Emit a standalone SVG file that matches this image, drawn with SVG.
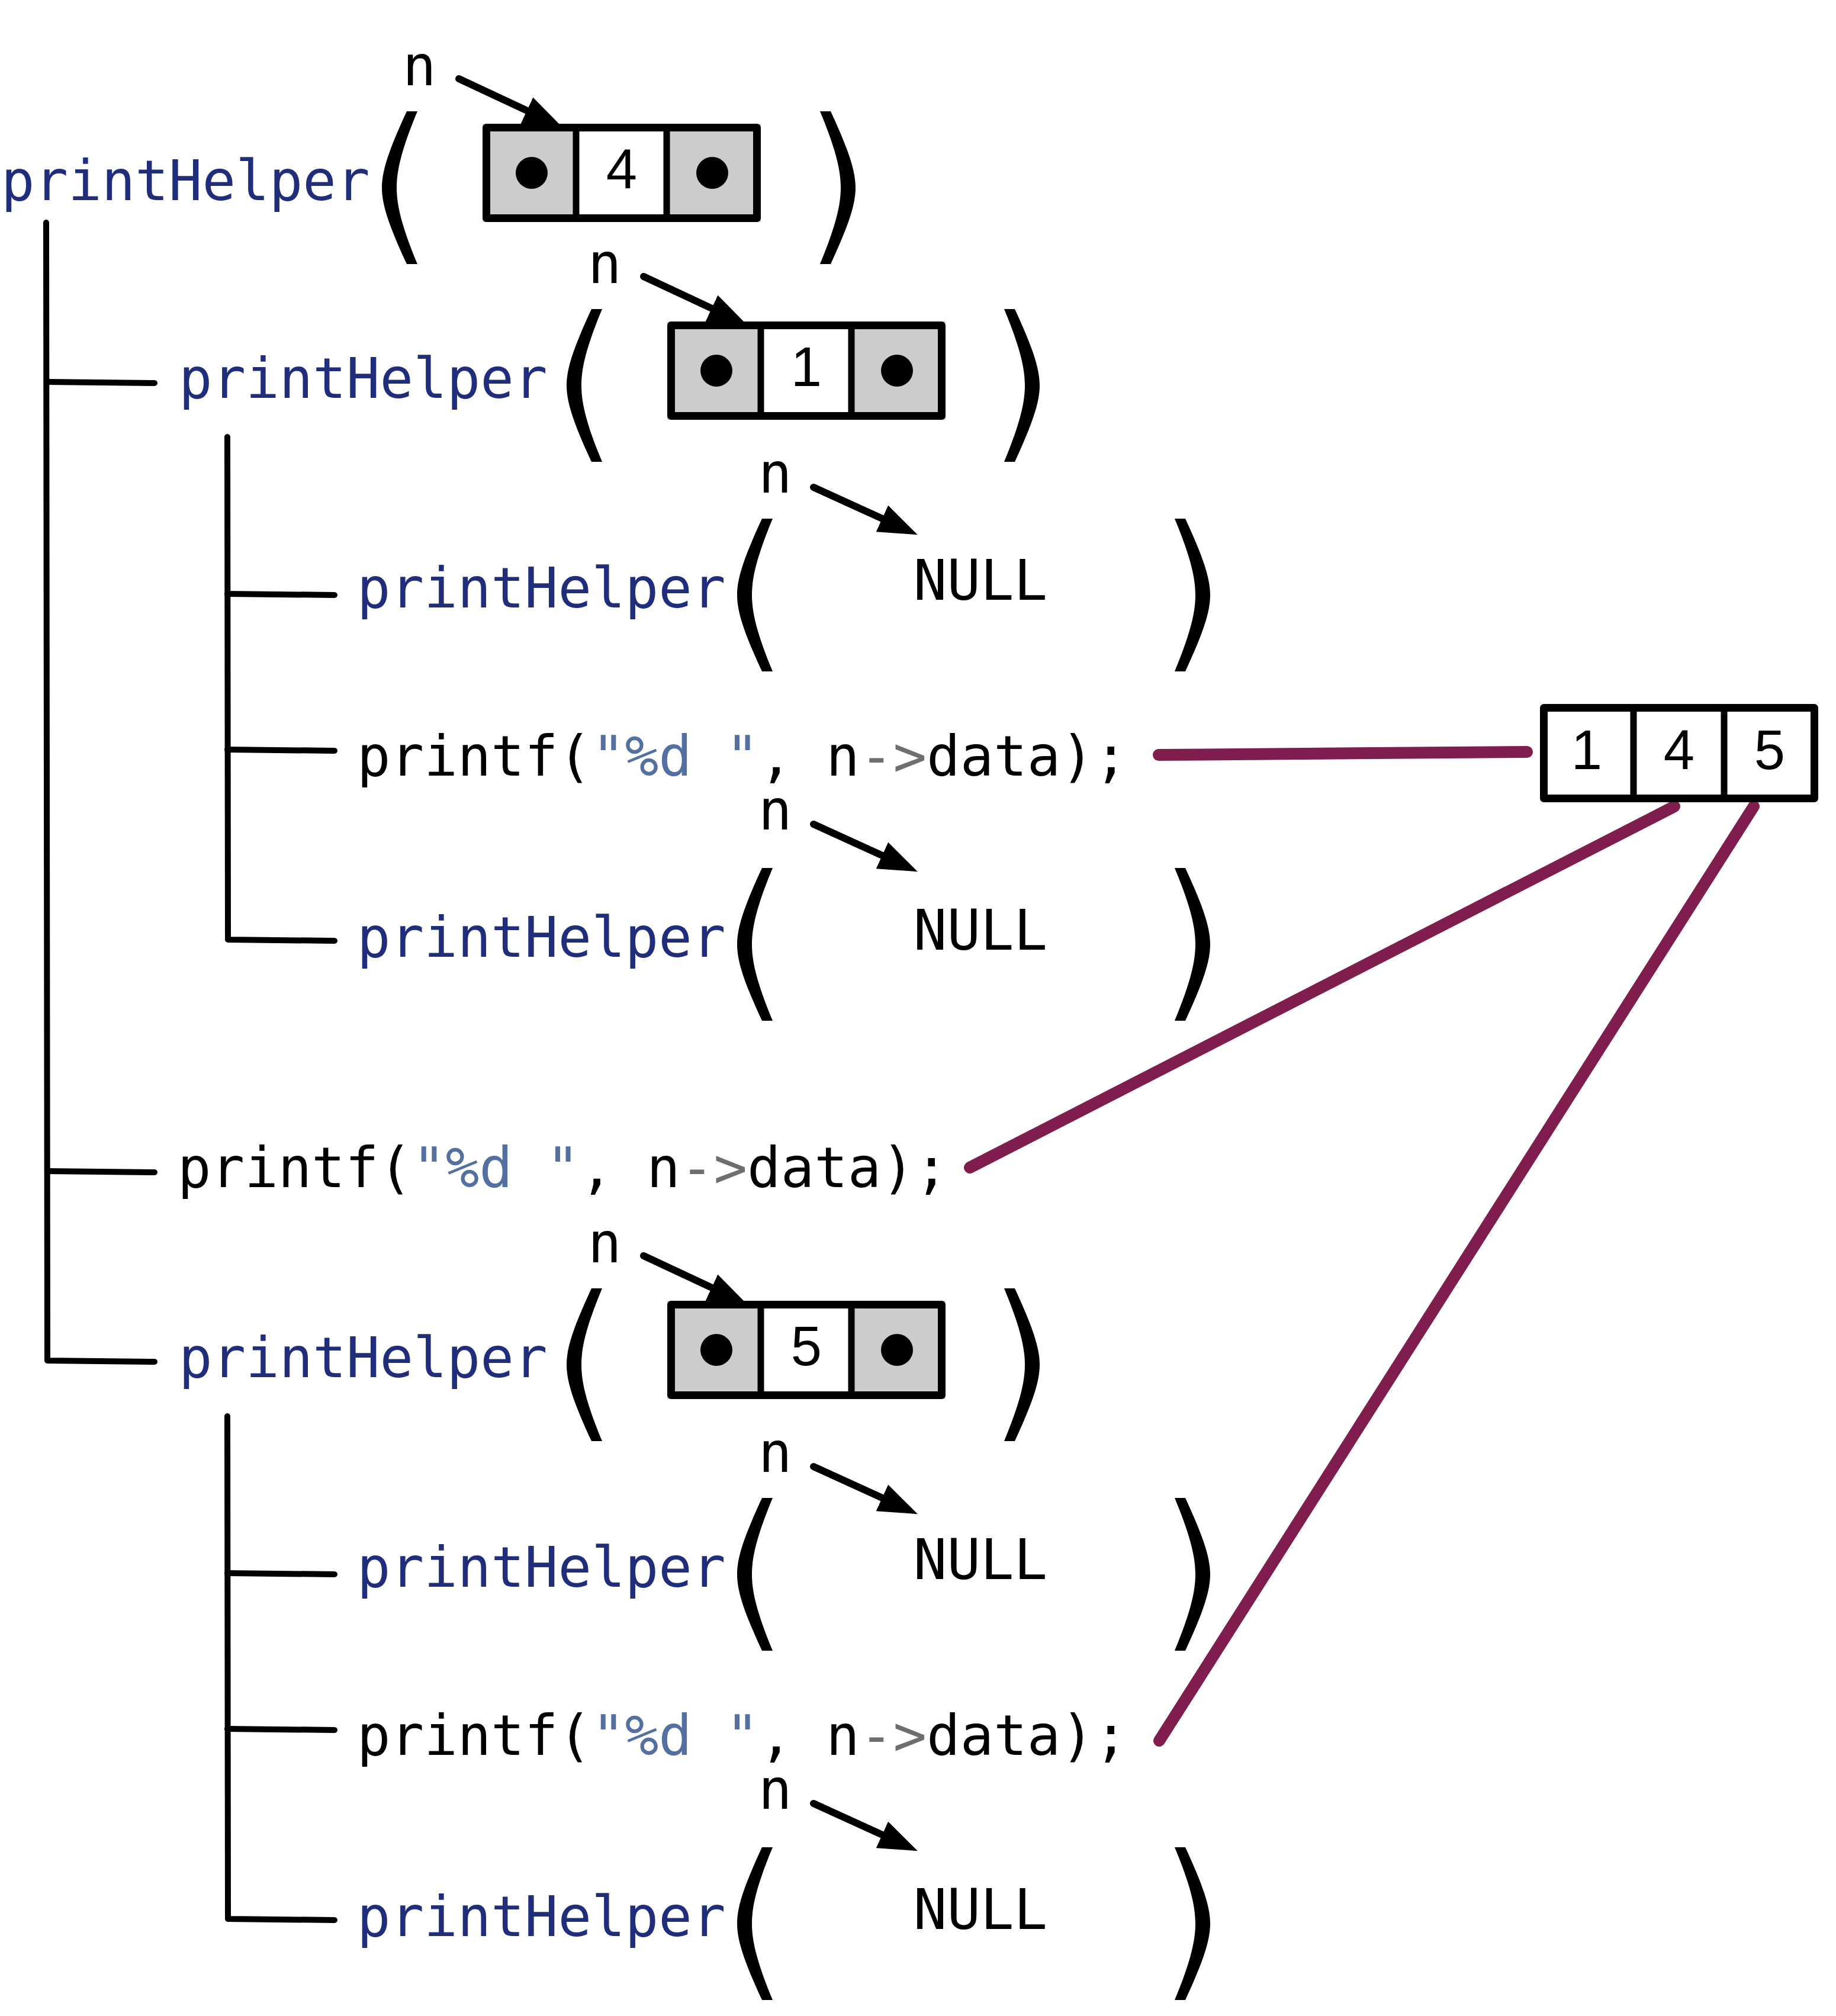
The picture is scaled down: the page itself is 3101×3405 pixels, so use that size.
<svg xmlns="http://www.w3.org/2000/svg" xmlns:xlink="http://www.w3.org/1999/xlink" width="3101" height="3405" viewBox="0 0 3101 3405">
<style>
.code{font-family:"DejaVu Sans Mono","Liberation Mono",monospace;font-size:94px;fill:#000}
.fn{fill:#1f2d7b}
.str{fill:#5470a0}
.op{fill:#6e6e6e}
.num{font-family:"Liberation Sans",Arial,sans-serif;font-size:94px;fill:#000;text-anchor:middle}
.null{text-anchor:middle}
.tree{fill:none;stroke:#000;stroke-width:10;stroke-linecap:round;stroke-linejoin:round}
.out{fill:none;stroke:#7f1d4f;stroke-width:20;stroke-linecap:round}
.ptr{fill:none;stroke:#000;stroke-width:12;stroke-linecap:round}
.cellg{fill:#cccccc}
.cellw{fill:#ffffff}
.frame{fill:none;stroke:#000;stroke-width:13;stroke-linejoin:round}
.div{stroke:#000;stroke-width:11}
</style>
<defs>
<marker id="ah" markerUnits="userSpaceOnUse" markerWidth="70" markerHeight="52" refX="10" refY="24.5" orient="auto">
<path d="M0,0 L66,24.5 L0,49 Z" fill="#000"/>
</marker>
<path id="lp" d="M42 0 L60 0 C33 65 25 100 25 129 C25 158 33 193 60 258 L42 258 C12 193 0 158 0 129 C0 100 12 65 42 0 Z" fill="#000"/>
<path id="rp" d="M18 0 L0 0 C27 65 35 100 35 129 C35 158 27 193 0 258 L18 258 C48 193 60 158 60 129 C60 100 48 65 18 0 Z" fill="#000"/>
<g id="nodebox">
<rect x="0" y="0" width="158" height="166" class="cellg"/>
<rect x="158" y="0" width="153" height="166" class="cellw"/>
<rect x="311" y="0" width="159" height="166" class="cellg"/>
<line x1="158" y1="0" x2="158" y2="166" class="div"/>
<line x1="311" y1="0" x2="311" y2="166" class="div"/>
<rect x="6.5" y="6.5" width="457" height="153" class="frame"/>
<circle cx="83" cy="83" r="27" fill="#000"/>
<circle cx="388" cy="83" r="27" fill="#000"/>
</g>
</defs>
<rect width="3101" height="3405" fill="#ffffff"/>

<g id="connectors">
<path class="tree" d="M78 376 L80 2298 L261 2300"/>
<path class="tree" d="M80 645 L261 647"/>
<path class="tree" d="M80 1978 L261 1980"/>
<path class="tree" d="M384 738 L385 1587 L565 1589"/>
<path class="tree" d="M384 1003 L565 1005"/>
<path class="tree" d="M384 1266 L565 1268"/>
<path class="tree" d="M384 2392 L385 3241 L565 3243"/>
<path class="tree" d="M384 2657 L565 2659"/>
<path class="tree" d="M384 2920 L565 2922"/>
<line class="ptr" x1="775" y1="133" x2="899" y2="191" marker-end="url(#ah)"/>
<line class="ptr" x1="1087" y1="467" x2="1211" y2="525" marker-end="url(#ah)"/>
<line class="ptr" x1="1374" y1="823" x2="1499" y2="880" marker-end="url(#ah)"/>
<line class="ptr" x1="1374" y1="1392" x2="1499" y2="1449" marker-end="url(#ah)"/>
<line class="ptr" x1="1087" y1="2121" x2="1211" y2="2179" marker-end="url(#ah)"/>
<line class="ptr" x1="1374" y1="2477" x2="1499" y2="2534" marker-end="url(#ah)"/>
<line class="ptr" x1="1374" y1="3046" x2="1499" y2="3103" marker-end="url(#ah)"/>
<line class="out" x1="1957" y1="1275" x2="2579" y2="1270"/>
<line class="out" x1="1638" y1="1972" x2="2828" y2="1362"/>
<line class="out" x1="1958" y1="2940" x2="2962" y2="1362"/>
</g>

<g id="call-4">
<text class="code fn" x="2" y="338">printHelper</text>
<use xlink:href="#lp" x="645" y="188"/>
<use xlink:href="#rp" x="1385" y="188"/>
<text class="code" x="680" y="144">n</text>
<use xlink:href="#nodebox" x="815" y="209"/>
<text class="num" x="1050" y="318">4</text>
</g>

<g id="call-1">
<text class="code fn" x="302" y="672">printHelper</text>
<use xlink:href="#lp" x="957" y="522"/>
<use xlink:href="#rp" x="1696" y="522"/>
<text class="code" x="993" y="478">n</text>
<use xlink:href="#nodebox" x="1127" y="543"/>
<text class="num" x="1362" y="652">1</text>
</g>

<g id="call-1-left-null">
<text class="code fn" x="603" y="1026">printHelper</text>
<use xlink:href="#lp" x="1245" y="876"/>
<use xlink:href="#rp" x="1984" y="876"/>
<text class="code" x="1281" y="832">n</text>
<text class="code null" x="1656" y="1013">NULL</text>
</g>

<g id="printf-1">
<text class="code" x="603" y="1310" xml:space="preserve">printf(<tspan class="str">"%d "</tspan>, n<tspan class="op">-&gt;</tspan>data);</text>
</g>

<g id="call-1-right-null">
<text class="code fn" x="603" y="1616">printHelper</text>
<use xlink:href="#lp" x="1245" y="1466"/>
<use xlink:href="#rp" x="1984" y="1466"/>
<text class="code" x="1281" y="1401">n</text>
<text class="code null" x="1656" y="1604">NULL</text>
</g>

<g id="printf-4">
<text class="code" x="300" y="2005" xml:space="preserve">printf(<tspan class="str">"%d "</tspan>, n<tspan class="op">-&gt;</tspan>data);</text>
</g>

<g id="call-5">
<text class="code fn" x="302" y="2326">printHelper</text>
<use xlink:href="#lp" x="957" y="2176"/>
<use xlink:href="#rp" x="1696" y="2176"/>
<text class="code" x="993" y="2132">n</text>
<use xlink:href="#nodebox" x="1127" y="2197"/>
<text class="num" x="1362" y="2306">5</text>
</g>

<g id="call-5-left-null">
<text class="code fn" x="603" y="2680">printHelper</text>
<use xlink:href="#lp" x="1245" y="2530"/>
<use xlink:href="#rp" x="1984" y="2530"/>
<text class="code" x="1281" y="2486">n</text>
<text class="code null" x="1656" y="2667">NULL</text>
</g>

<g id="printf-5">
<text class="code" x="603" y="2964" xml:space="preserve">printf(<tspan class="str">"%d "</tspan>, n<tspan class="op">-&gt;</tspan>data);</text>
</g>

<g id="call-5-right-null">
<text class="code fn" x="603" y="3270">printHelper</text>
<use xlink:href="#lp" x="1245" y="3120"/>
<use xlink:href="#rp" x="1984" y="3120"/>
<text class="code" x="1281" y="3055">n</text>
<text class="code null" x="1656" y="3258">NULL</text>
</g>

<g id="output">
<rect x="2601" y="1189" width="470" height="166" class="cellw"/>
<line x1="2759" y1="1189" x2="2759" y2="1355" class="div"/>
<line x1="2912" y1="1189" x2="2912" y2="1355" class="div"/>
<rect x="2607.5" y="1195.5" width="457" height="153" class="frame"/>
<text class="num" x="2680" y="1299">1</text>
<text class="num" x="2836" y="1299">4</text>
<text class="num" x="2989" y="1299">5</text>
</g>
</svg>
